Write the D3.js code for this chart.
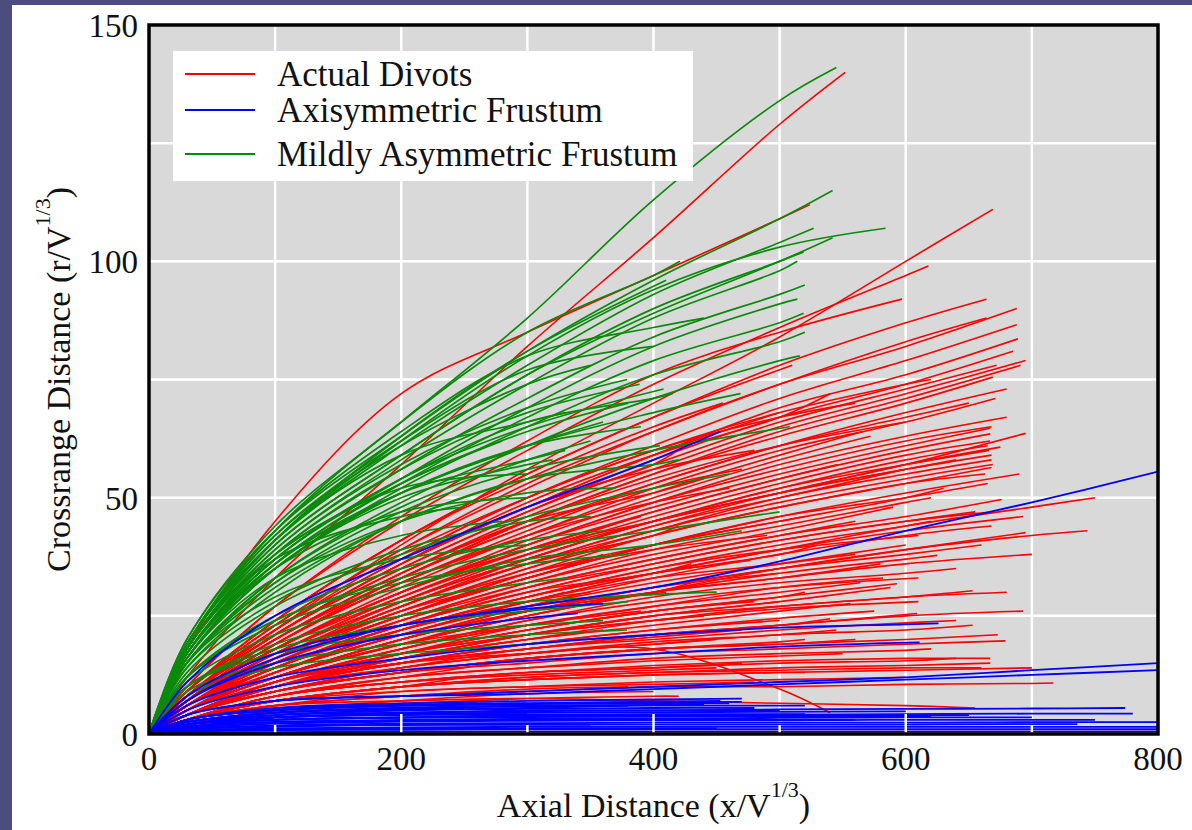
<!DOCTYPE html>
<html><head><meta charset="utf-8">
<script src="https://cdn.jsdelivr.net/npm/d3@7"></script>
<style>
html,body{margin:0;padding:0;background:#4c4c7e;}
svg{display:block;}
text{font-family:"Liberation Serif","Times New Roman",serif;fill:#111;}
</style></head>
<body>
<svg id="chart" width="1192" height="830"></svg>
<script>
// ---- data ----
// each curve: [xEnd, yEnd, y at 30, 100, 200, 300, 400, 500, 600, 700 ...] (only samples before the end)
const sampleX = [30, 100, 200, 300, 400, 500, 600, 700];
const xTicks = [0, 200, 400, 600, 800];
const yTicks = [0, 50, 100, 150];
const seriesNames = ["Actual Divots", "Axisymmetric Frustum", "Mildly Asymmetric Frustum"];

const redCurves = [
  [552,140, 12,33,57,82,105,129],
  [524,112, 18,45,72,85,97,109],
  [669,111, 8,22,40,56,70,84,100],
  [618,99, 10,27,45,60,74,86,97],
  [597,92, 10,27,46,62,76,85],
  [664,92, 9,24,41,55,67,78,87],
  [688,90, 9,23,39,52,64,74,82],
  [664,88, 9,23,39,53,64,74,83],
  [688,86.6, 8,22,37,50,61,71,79],
  [689,83.6, 8,21,36,48,59,69,76],
  [685,81, 8,21,35,47,58,67,74],
  [695,79, 8,20,34,46,56,65,72],
  [691,78, 7,19,33,45,55,64,71],
  [672,78, 8,21,35,47,57,66,73],
  [669,75.5, 7,20,33,45,55,63,70],
  [680,73, 7,19,32,43,53,61,68],
  [671,71, 7,19,32,42,52,60,66],
  [667,64.7, 7,18,30,40,48,55,61],
  [695,63.6, 6,16,27,36,44,51,57],
  [675,60.7, 7,17,28,37,45,51,57],
  [668,58, 6,16,27,36,43,50,55],
  [668,56.4, 6,16,26,35,42,48,53],
  [665,53, 6,15,25,33,40,46,50],
  [676,49.6, 6,14,23,31,37,42,46],
  [750,50, 5,13,21,28,34,39,44,48],
  [693,46, 5,13,21,28,34,39,43],
  [668,44, 5,12,20,27,33,38,42],
  [695,42.6, 5,12,19,26,31,35,39],
  [744,43, 5,12,19,25,30,35,39,42],
  [625,37.8, 5,12,19,25,30,34,37],
  [582,33, 4,11,18,23,27,31],
  [593,31.8, 4,11,17,22,26,29],
  [588,31, 4,10,16,21,25,28],
  [653,30.3, 4,10,16,20,24,27,29],
  [693,26, 4,10,15,18,21,23,25],
  [609,25.5, 4,10,15,18,21,23,25],
  [653,23, 4,9,14,17,19,21,22],
  [673,21, 4,9,13,16,18,19,20],
  [679,19.7, 4,9,13,15,17,18,19],
  [667,15, 3,7,10,12,13,14,14.5],
  [717,10.8, 3,6,8,9,10,10,10.5,10.7],
  [655,5.5, 3,6,7,7.5,7,6.5,6],
  [540,4.5, 4,11,15,17,18,9.5],
  [667,62, 7,17,29,38,46,53,59],
  [666,60, 6,17,28,37,45,52,57],
  [668,59, 7,18,29,38,45,51,56],
  [665,61, 6,16,27,37,45,52,58],
  [669,57, 6,16,26,35,43,49,54],
  [667,63.5, 6,16,28,38,47,54,60],
  [663,55, 6,15,25,34,42,48,53],
  [668,65, 7,18,30,40,49,56,62],
  [566,64, 7,18,31,42,51,59],
  [572,63, 7,18,30,41,50,58],
  [546,57, 7,17,29,39,47,54],
  [556,27.6, 4,10,16,20,23,26],
  [540,24.4, 4,10,15,19,21,23],
  [564,32, 4,11,17,23,27,30],
  [520,20, 4,9,13,16,18,19.5],
  [477,36.7, 5,13,22,29,34],
  [500,34, 5,12,20,26,31],
  [480,28, 4,11,17,22,26],
  [520,30, 4,10,17,22,26,29],
  [600,40, 5,12,20,27,32,36],
  [620,45, 5,13,22,29,35,40,44],
  [590,48, 6,14,24,32,38,43],
  [630,52, 6,15,25,33,40,45,50],
  [450,48, 7,18,30,39,45],
  [420,44, 6,16,27,36,42],
  [400,40, 6,15,25,33],
  [380,35, 6,15,24,31],
  [460,52, 7,19,32,42,49],
  [470,56, 7,19,33,44,52],
  [430,32, 5,13,21,27,30],
  [350,30, 5,14,22,28],
  [490,42, 6,15,26,34,39],
  [440,25, 4,11,17,21,24],
  [360,22, 4,11,16,20],
  [410,18, 4,9,13,16,17.5],
  [470,15, 3,8,11,13,14],
  [520,13, 3,7,10,11.5,12.5,13],
  [600,12, 3,6,9,10,11,11.5],
  [640,16, 3,8,11,13,14,15,15.5],
  [700,14, 3,7,10,11.5,12.5,13,13.5],
  [667,16, 3,8,11,13,14.5,15.5,16],
  [660,14, 3,7,10,12,13,13.5,14],
  [510,78, 9,24,41,55,67,76],
  [540,72, 8,21,36,49,59,67],
  [500,68, 8,21,36,48,59],
  [455,70, 9,24,41,54,65],
  [430,62, 8,21,36,48,57],
  [420,8, 2,5,6.5,7.5,8],
  [380,10, 3,6,8,9.5],
  [300,6, 2,4.5,5.5],
  [480,11, 3,7,9,10,10.5],
  [560,38, 5,13,21,28,33,36],
  [610,42, 5,13,22,29,35,39,41.5],
  [640,35, 4,11,18,24,29,32,34],
  [575,26, 4,10,15,19,22,24.5],
  [545,22, 4,9,14,17,19.5,21],
  [500,24, 4,10,15,19,22],
  [610,28, 4,10,16,21,24,26.5,27.5],
  [450,20, 4,10,14,17,19],
  [390,26, 4,11,18,23],
  [330,24, 5,12,19,23],
  [520,46, 6,15,25,34,40,45],
  [650,70, 8,20,33,44,53,61,67],
  [680,67, 7,18,30,40,49,57,63],
  [690,55, 6,15,25,33,40,46,51],
  [670,47, 6,14,23,30,36,41,45],
  [660,40, 5,12,20,26,31,35,38],
  [350,12, 3,7,10,11.5],
  [450,14, 3,8,11,12.5,13.5],
  [550,17, 3,8,12,14,15.5,16.5],
  [400,9, 2,5,7,8.5],
  [620,50, 6,14,24,32,39,44,49],
  [600,56, 7,16,27,36,44,50],
  [560,45, 6,14,23,31,37,42],
  [640,58, 7,17,28,37,45,51,56],
  [655,47, 6,14,23,30,36,41,45],
  [530,40, 6,13,22,29,34,38],
  [580,36, 5,12,20,26,30,33],
  [610,33, 5,11,18,24,28,31,32.5],
  [500,28, 4,11,17,21,25],
  [560,20, 4,9,13,16,18,19],
  [620,18, 3,8,12,14,16,17,17.7],
  [640,24, 4,9,14,18,20,22,23.5],
  [470,22, 4,10,15,18,20.5],
  [430,36, 6,14,23,30,34],
  [410,30, 5,12,20,26,29],
  [390,46, 7,18,30,39],
  [360,38, 6,16,26,33],
  [330,30, 5,14,22,28],
  [480,60, 8,21,36,48,56],
  [440,54, 8,20,34,45,51],
  [600,66, 8,20,34,45,54,61],
  [620,75, 9,22,37,50,60,68,74],
  [560,70, 9,22,38,50,60,67],
  [300,16, 3,8,12],
  [250,12, 3,7,10],
  [680,30, 4,10,16,21,25,27,29],
  [700,38, 5,12,19,25,30,33,36]
];

const greenCurves = [
  [545,141, 20,44,66,88,113,134],
  [542,115, 20,43,63,81,96,109],
  [584,107, 19,41,62,80,94,103],
  [527,107, 19,41,61,78,93,104],
  [542,105, 18,40,59,76,89,100],
  [519,102, 18,40,59,76,90,100],
  [514,100, 18,39,58,74,88,98],
  [520,95, 17,38,56,71,84,93],
  [514,92, 17,37,54,69,82,91],
  [519,89, 16,36,53,67,79,87],
  [421,100, 19,43,66,85,97],
  [410,96, 18,41,63,81],
  [516,80, 15,33,49,61,71,79],
  [379,75, 18,39,57,69],
  [389,74, 17,38,56,68],
  [408,73, 17,37,54,65,72],
  [415,72, 17,37,54,66,71],
  [508,65, 14,30,45,54,60],
  [405,61, 15,32,47,56],
  [380,70, 17,36,53,64],
  [360,66, 16,35,51,61],
  [350,62, 15,33,48,58],
  [280,62, 18,38,53],
  [350,78, 19,42,61,74],
  [320,58, 16,35,50,57],
  [379,22, 9,15,19,21],
  [342,20, 8,14,17,19],
  [360,24, 10,17,21,23],
  [380,28, 10,18,23,26],
  [470,43, 12,23,31,37,40],
  [500,47, 12,24,33,39,43],
  [360,43, 12,25,35,41],
  [330,33, 11,21,28,32],
  [460,55, 13,27,38,46,52],
  [469,72, 17,36,51,61,68],
  [520,85, 16,35,52,65,76,83],
  [300,55, 18,38,52],
  [250,48, 18,37,46],
  [330,68, 19,41,59,66],
  [400,82, 19,42,62,77],
  [440,88, 19,43,64,80,86],
  [370,52, 15,32,45,51],
  [300,40, 15,29,37],
  [350,46, 14,28,39,45],
  [420,58, 15,31,45,54,57],
  [380,38, 12,24,32,36],
  [450,30, 10,19,25,28,29.5],
  [330,60, 17,36,51,58],
  [300,50, 17,35,47],
  [390,65, 16,35,51,61],
  [280,45, 16,33,42]
];

const blueCurves = [
  [800,55.5, 8,17,23,27,31,36.5,43,49],
  [453,64, 11,25,37,48,58],
  [626,23.4, 6,12,16,19,21,22.5,23.2],
  [611,19.4, 5,10,13.5,15.5,17,18.5],
  [800,15, 4,7,8,9,10,11,12,13.5],
  [800,13.5, 4,7,8,8.5,9.5,10.5,11.5,12.5],
  [774,5.5, 2,4,4.5,5,5,5.2,5.3,5.4],
  [780,4.3, 2,3,3.5,4,4,4.1,4.2,4.3],
  [736,2.1, 1,1.5,2,2,2,2,2,2.1],
  [453,7, 3,5,6,6.5],
  [460,6.5, 3,5,6,6.3,6.5],
  [520,6, 2.5,4.5,5.5,5.8,6,6],
  [380,6, 2,4,5,5.5],
  [650,4, 2,3,3.5,3.8,4,4,4],
  [800,1.5, 0.8,1.2,1.4,1.5,1.5,1.5,1.5,1.5],
  [800,2.5, 1,1.8,2.2,2.3,2.4,2.4,2.4,2.5],
  [700,3.5, 1.5,2.5,3,3.2,3.3,3.4,3.5],
  [500,5, 2,3.5,4.5,4.8,5],
  [560,3, 1.5,2.5,2.8,3,3,3],
  [300,4.5, 2,3.5,4.2],
  [340,25.5, 7,15,21,24.5],
  [360,27.6, 7,16,23,26.5],
  [470,7.5, 3,5.5,6.5,7,7.3],
  [470,6.8, 3,5,6,6.5,6.7],
  [440,6.2, 2.5,4.5,5.5,6],
  [480,5.5, 2.5,4,5,5.3,5.5],
  [600,4.8, 2,3.5,4.2,4.5,4.6,4.7],
  [620,3.8, 1.5,3,3.4,3.6,3.7,3.8,3.8],
  [750,3, 1.2,2.2,2.6,2.8,2.9,2.9,3,3],
  [800,1, 0.5,0.8,0.9,1,1,1,1,1],
  [800,0.5, 0.3,0.4,0.5,0.5,0.5,0.5,0.5,0.5],
  [400,3, 1.5,2.5,2.8,3],
  [350,2, 1,1.7,1.9,2],
  [450,1.2, 0.6,1,1.1,1.2,1.2],
  [520,4.2, 2,3.5,4,4.1,4.2,4.2],
  [300,6.5, 3,5.2,6.2],
  [250,5.5, 2.5,4.5,5.2],
  [200,3.5, 1.5,3]
];

// ---- drawing ----
const svg = d3.select("#chart");
const W = 1192, H = 830;
const plot = {left:149, right:1158, top:25, bottom:734};

svg.append("rect").attr("x",12).attr("y",5).attr("width",W-12).attr("height",H-5).attr("fill","#ffffff");

const x = d3.scaleLinear().domain([0,800]).range([plot.left, plot.right]);
const y = d3.scaleLinear().domain([0,150]).range([plot.bottom, plot.top]);

svg.append("rect").attr("x",plot.left).attr("y",plot.top)
  .attr("width",plot.right-plot.left).attr("height",plot.bottom-plot.top).attr("fill","#d9d9d9");

// grid
const gGrid = svg.append("g");
gGrid.selectAll(".vg").data(d3.range(100,800,100)).join("line")
  .attr("x1",d=>x(d)).attr("x2",d=>x(d)).attr("y1",plot.top).attr("y2",plot.bottom)
  .attr("stroke","#fff").attr("stroke-width",2.5);
gGrid.selectAll(".hg").data(d3.range(25,150,25)).join("line")
  .attr("y1",d=>y(d)).attr("y2",d=>y(d)).attr("x1",plot.left).attr("x2",plot.right)
  .attr("stroke","#fff").attr("stroke-width",2.5);

function toPoints(c){
  const xe=c[0], ye=c[1], ys=c.slice(2);
  const pts=[[0,0]]; let i=0;
  for(const sx of sampleX){ if(sx < xe-10 && i<ys.length){ pts.push([sx, ys[i++]]); } }
  pts.push([xe,ye]);
  return pts;
}
const line = d3.line().x(d=>x(d[0])).y(d=>y(d[1])).curve(d3.curveCatmullRom.alpha(0.5));

const clip = svg.append("clipPath").attr("id","clp").append("rect")
  .attr("x",plot.left).attr("y",plot.top).attr("width",plot.right-plot.left).attr("height",plot.bottom-plot.top);
const gData = svg.append("g").attr("clip-path","url(#clp)");

function drawSet(data, color, w){
  gData.append("g").selectAll("path").data(data).join("path")
    .attr("d", d=>line(toPoints(d))).attr("fill","none")
    .attr("stroke",color).attr("stroke-width",w).attr("stroke-linejoin","round");
}
drawSet(redCurves, "#ff0000", 1.6);
drawSet(greenCurves, "#0a8a0a", 1.7);
drawSet(blueCurves, "#0000ff", 1.8);

// inner white tick marks
const gT = svg.append("g");
gT.selectAll(".xt").data(d3.range(100,800,100)).join("line")
  .attr("x1",d=>x(d)).attr("x2",d=>x(d)).attr("y1",plot.bottom)
  .attr("y2",d=>plot.bottom-(d%200===0?20:9)).attr("stroke","#fff").attr("stroke-width",2.5);

// frame
svg.append("rect").attr("x",plot.left).attr("y",plot.top)
  .attr("width",plot.right-plot.left).attr("height",plot.bottom-plot.top)
  .attr("fill","none").attr("stroke","#000").attr("stroke-width",3.5);

// tick labels
svg.append("g").selectAll("text").data(xTicks).join("text")
  .attr("x",d=>x(d)).attr("y",plot.bottom+36).attr("text-anchor","middle")
  .attr("font-size",33).text(d=>d);
svg.append("g").selectAll("text").data(yTicks).join("text")
  .attr("x",plot.left-11).attr("y",d=>y(d)+12).attr("text-anchor","end")
  .attr("font-size",33).text(d=>d);

// axis titles
const xt = svg.append("text").attr("x",(plot.left+plot.right)/2).attr("y",817)
  .attr("text-anchor","middle").attr("font-size",34);
xt.append("tspan").text("Axial Distance (x/V");
xt.append("tspan").attr("font-size",22).attr("dy",-20).text("1/3");
xt.append("tspan").attr("dy",20).text(")");

const yt = svg.append("text").attr("transform",`translate(70,${(plot.top+plot.bottom)/2}) rotate(-90)`)
  .attr("text-anchor","middle").attr("font-size",34);
yt.append("tspan").text("Crossrange Distance (r/V");
yt.append("tspan").attr("font-size",22).attr("dy",-20).text("1/3");
yt.append("tspan").attr("dy",20).text(")");

// legend
const colors = ["#ff0000","#0000ff","#0a8a0a"];
const lg = svg.append("g");
lg.append("rect").attr("x",173).attr("y",51).attr("width",520).attr("height",130).attr("fill","#fff");
const rowsY = [74, 110, 154];
seriesNames.forEach((n,i)=>{
  lg.append("line").attr("x1",185).attr("x2",255).attr("y1",rowsY[i]).attr("y2",rowsY[i])
    .attr("stroke",colors[i]).attr("stroke-width",2);
  lg.append("text").attr("x",277).attr("y",rowsY[i]+12).attr("font-size",35).text(n);
});
</script>
</body></html>
